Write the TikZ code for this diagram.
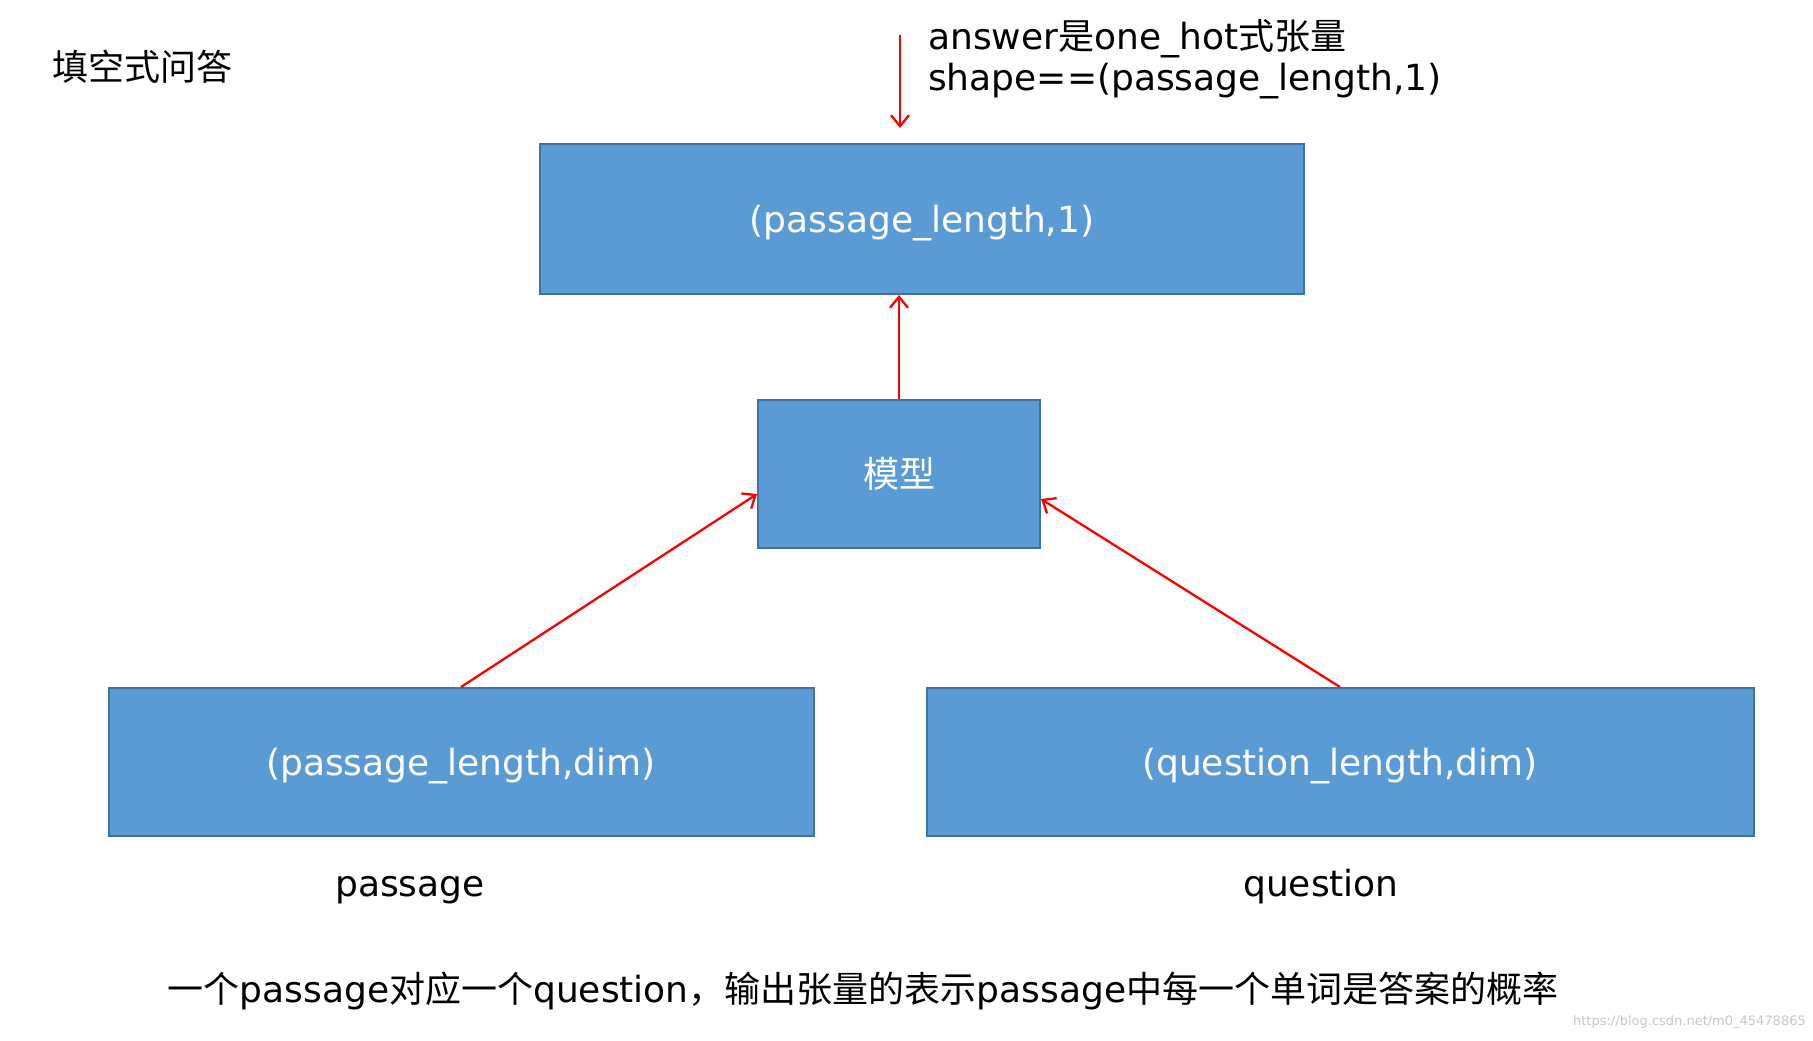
\documentclass[tikz,border=0pt]{standalone}
\usepackage{fontspec}
\setmainfont{DejaVu Sans}
\newfontfamily\cjk{Noto Sans CJK SC}
\newcommand{\zh}[1]{{\cjk #1}}
\usetikzlibrary{positioning,arrows.meta}
\definecolor{boxfill}{HTML}{5B9BD5}
\definecolor{boxline}{HTML}{41719C}
\tikzset{
mytxt/.style={
  font=\fontsize{36}{41}\selectfont,
  inner sep=0pt
  },
mybox/.style={
  draw=boxline,
  fill=boxfill,
  line width=2pt,
  text=white,
  minimum height=148pt
  },
myboxs/.style={
  mybox,
  text height=34pt,
  text depth=7pt
  },
myarrow/.style={
  ->,
  draw=red,
  line width=2.3pt
  }
}
\begin{document}
\begin{tikzpicture}[x=1pt,y=-1pt,>={Straight Barb[length=11pt,width=18pt]},every node/.style={mytxt}]
\useasboundingbox (0,0) rectangle (1813,1041);

\node[myboxs,minimum width=764pt,minimum height=150pt] (top) at (922,219) {(passage\_length,1)};
\node[mybox,minimum width=282pt] (model) at (899,474) {\zh{模型}};
\node[myboxs,minimum width=705pt] (pas) at (461,762) {(passage\_length,dim)};
\node[myboxs,minimum width=827pt] (que) at (1340,762) {(question\_length,dim)};

\node[anchor=west] (title) at (52,67) {\zh{填空式问答}};
\node[anchor=west,align=left] (ans) at (928,59) {answer\zh{是}one\_hot\zh{式张量}\\shape==(passage\_length,1)};

\node[anchor=base] (plab) at (410,896) {passage};
\node[anchor=base] (qlab) at (1321,896) {question};
\node (note) at (863,991) {\zh{一个}passage\zh{对应一个}question\zh{，输出张量的表示}passage\zh{中每一个单词是答案的概率}};
\node[anchor=east,text=black!22,font=\fontsize{13}{15}\selectfont] (wm) at (1806,1022) {https://blog.csdn.net/m0\_45478865};

\coordinate (a0) at (900,35);
\draw[myarrow] (a0) -- ([yshift=15pt]top.north -| a0);
\draw[myarrow] (model.north) -- (model.north |- top.south);
\draw[myarrow] (pas.north) -- ([yshift=-20pt]model.west);
\draw[myarrow] (que.north) -- ([yshift=-25pt]model.east);
\end{tikzpicture}
\end{document}
